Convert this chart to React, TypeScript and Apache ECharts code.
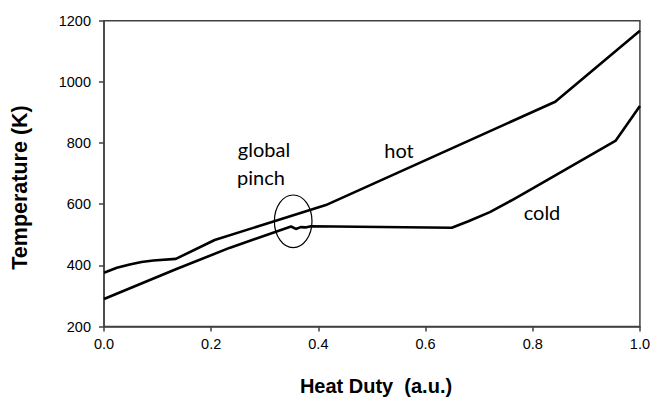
import React, { useEffect, useRef } from "react";
import * as echarts from "echarts";

// Composite curves (Heat Duty in a.u., Temperature in K)
const hotDuty = [0, 0.024, 0.048, 0.07, 0.092, 0.134, 0.2065, 0.414, 0.842, 1.0];
const hotTemp = [376, 392, 403, 411, 416, 421, 483, 597, 935, 1167];

const coldDuty = [0, 0.134, 0.234, 0.349, 0.358, 0.367, 0.376, 0.386, 0.649, 0.68, 0.72, 0.76, 0.80, 0.955, 1.0];
const coldTemp = [290, 387, 457, 527, 519, 525, 524, 528, 523, 544, 574, 612, 652, 808, 921];

const pinchCenter = [0.353, 544];

const xTicks = [0, 0.2, 0.4, 0.6, 0.8, 1.0];
const yTicks = [200, 400, 600, 800, 1000, 1200];

const labels = [
  { text: "global", x: 264, y: 149 },
  { text: "pinch", x: 261, y: 177 },
  { text: "hot", x: 399, y: 150 },
  { text: "cold", x: 542, y: 212 },
];

export default function App() {
  const ref = useRef<HTMLDivElement>(null);
  useEffect(() => {
    if (!ref.current) return;
    const chart = echarts.init(ref.current, null, { renderer: "svg" });
    const hot = hotDuty.map((d, i) => [d, hotTemp[i]]);
    const cold = coldDuty.map((d, i) => [d, coldTemp[i]]);
    const axisColor = "#404040";
    chart.setOption({
      animation: false,
      backgroundColor: "#ffffff",
      grid: {
        left: 104,
        right: 11.5,
        top: 20.7,
        bottom: 71.5,
        show: true,
        borderColor: axisColor,
        borderWidth: 1.5,
        backgroundColor: "transparent",
      },
      xAxis: {
        type: "value",
        min: xTicks[0],
        max: xTicks[xTicks.length - 1],
        interval: 0.2,
        axisLine: { show: true, onZero: false, lineStyle: { color: axisColor, width: 1.5 } },
        axisTick: { show: true, length: 5, lineStyle: { color: axisColor, width: 1.5 } },
        splitLine: { show: false },
        axisLabel: {
          color: "#000",
          fontFamily: "Liberation Sans, Arial, sans-serif",
          fontSize: 14.5,
          margin: 10,
          formatter: (v: number) => v.toFixed(1),
        },
      },
      yAxis: {
        type: "value",
        min: yTicks[0],
        max: yTicks[yTicks.length - 1],
        interval: 200,
        axisLine: { show: true, onZero: false, lineStyle: { color: axisColor, width: 1.5 } },
        axisTick: { show: true, length: 5, lineStyle: { color: axisColor, width: 1.5 } },
        splitLine: { show: false },
        axisLabel: {
          color: "#000",
          fontFamily: "Liberation Sans, Arial, sans-serif",
          fontSize: 14.5,
          margin: 13,
          formatter: (v: number) => String(v),
        },
      },
      series: [
        {
          name: "hot",
          type: "line",
          data: hot,
          showSymbol: false,
          symbol: "none",
          lineStyle: { color: "#000", width: 2.6 },
        },
        {
          name: "cold",
          type: "line",
          data: cold,
          showSymbol: false,
          symbol: "none",
          lineStyle: { color: "#000", width: 2.6 },
        },
        {
          name: "pinch",
          type: "custom",
          data: [pinchCenter],
          renderItem: (params: any, api: any) => {
            const c = api.coord([api.value(0), api.value(1)]);
            return {
              type: "ellipse",
              shape: { cx: c[0], cy: c[1], rx: 18.8, ry: 26.3 },
              style: { fill: "none", stroke: "#000", lineWidth: 1.2 },
            };
          },
        },
      ],
      graphic: [
        ...labels.map((l) => ({
          type: "text",
          x: l.x,
          y: l.y,
          style: {
            text: l.text,
            fill: "#000",
            fontFamily: "Lato, Open Sans, sans-serif",
            fontSize: 20,
            align: "center",
            verticalAlign: "middle",
          },
        })),
        {
          type: "text",
          x: 376,
          y: 386,
          style: {
            text: "Heat Duty  (a.u.)",
            fill: "#000",
            fontFamily: "Liberation Sans, Arial, sans-serif",
            fontWeight: "bold",
            fontSize: 20,
            align: "center",
            verticalAlign: "middle",
          },
        },
        {
          type: "text",
          x: 20,
          y: 187.5,
          rotation: Math.PI / 2,
          style: {
            text: "Temperature (K)",
            fill: "#000",
            fontFamily: "Liberation Sans, Arial, sans-serif",
            fontWeight: "bold",
            fontSize: 21.5,
            align: "center",
            verticalAlign: "middle",
          },
        },
      ],
    });
    return () => chart.dispose();
  }, []);
  return <div ref={ref} style={{ width: 653, height: 398, position: "fixed", left: 0, top: 0 }} />;
}
